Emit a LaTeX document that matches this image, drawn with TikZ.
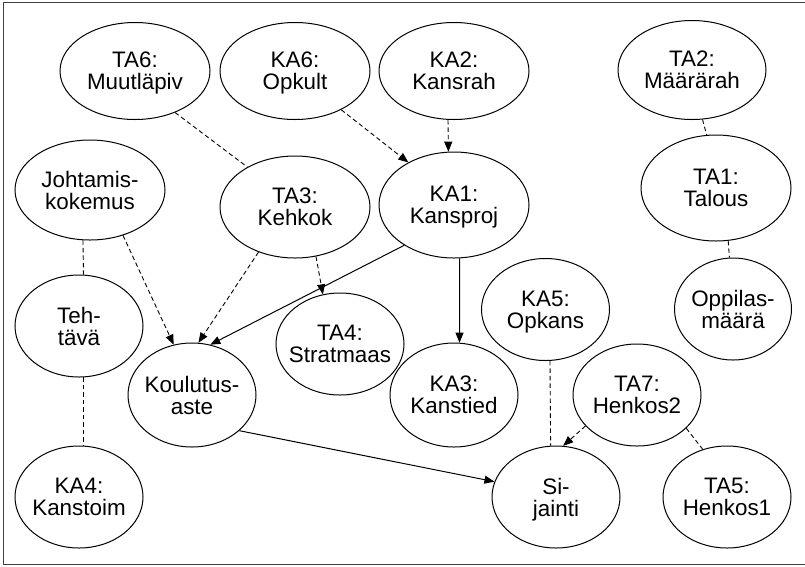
\documentclass[tikz,border=0pt]{standalone}
\usepackage{fontspec}
\setmainfont{Liberation Sans}
\usetikzlibrary{shapes.geometric,arrows.meta}
\begin{document}
\begin{tikzpicture}[x=1pt,y=-1pt,
  var/.style={ellipse,draw,line width=1pt,inner xsep=-14pt,inner ysep=0pt,
    align=center,text depth=0pt,font=\fontsize{22.4}{22}\selectfont},
  wide/.style={var,minimum width=150pt,minimum height=97pt},
  narrow/.style={var,minimum width=128pt,minimum height=102pt},
  link/.style={line width=0.9pt,dash pattern=on 4.5pt off 3pt},
  causal/.style={link,-{Triangle[length=10pt,width=8pt]}},
  direct/.style={line width=1pt,-{Triangle[length=10pt,width=8pt]}}
]
\useasboundingbox (0,0) rectangle (805,566);
% open frame (right side runs off the page)
\draw[line width=1pt,black!75] (805,2.5) -- (3,2.5) -- (3,564.5) -- (805,564.5);

% variables
\node[wide] (ta6) at (135,71) {TA6:\\Muutläpiv};
\node[wide] (ka6) at (295,71) {KA6:\\Opkult};
\node[wide] (ka2) at (454,71) {KA2:\\Kansrah};
\node[wide,minimum width=148pt,minimum height=99pt] (ta2) at (692,70) {TA2:\\Määrärah};
\node[wide,minimum height=100pt] (joh) at (90,190) {Johtamis-\\kokemus};
\node[wide,minimum height=102pt] (ta3) at (295,207) {TA3:\\Kehkok};
\node[wide,minimum height=106pt] (ka1) at (454,205) {KA1:\\Kansproj};
\node[wide,minimum height=106pt] (ta1) at (716,188) {TA1:\\Talous};
\node[narrow] (teh) at (79,326) {Teh-\\tävä};
\node[narrow,minimum width=117pt] (opp) at (733,309) {Oppilas-\\määrä};
\node[narrow] (ka5) at (545.5,309.5) {KA5:\\Opkans};
\node[narrow] (ta4) at (340,344) {TA4:\\Stratmaas};
\node[narrow,minimum height=104pt] (kou) at (192,395) {Koulutus-\\aste};
\node[narrow,minimum height=104pt] (ka3) at (454,395) {KA3:\\Kanstied};
\node[narrow] (ta7) at (637,395) {TA7:\\Henkos2};
\node[narrow] (ka4) at (79,497) {KA4:\\Kanstoim};
\node[narrow] (sij) at (556,497) {Si-\\jainti};
\node[narrow] (ta5) at (727,497) {TA5:\\Henkos1};

% undirected links
\draw[link] (ta6.-46.3) -- (ta3.140.2);
\draw[link] (ta2.-78.3) -- (ta1.100);
\draw[link] (ta1.-77.2) -- (opp.94.5);
\draw[link] (joh.-98) -- (teh.85.5);
\draw[link] (teh.-85.5) -- (ka4.85.5);
\draw[link] (ka5.-85) -- (sij.96.7);
\draw[link] (ta7.-34.7) -- (ta5.117.9);

% dashed directed links
\draw[causal] (ka6.-40.5) -- (ka1.137.2);
\draw[causal] (ka2.-97.1) -- (ka1.96.5);
\draw[causal] (joh.-54.6) -- (kou.110);
\draw[causal] (ta3.-129.6) -- (kou.83.4);
\draw[causal] (ta3.-67.6) -- (ta4.109.4);
\draw[causal] (ta7.-149.8) -- (sij.82.3);

% solid directed links
\draw[direct] (ka1.-141.2) -- (kou.70.9);
\draw[direct] (ka1.-84.6) -- (ka3.84.5);
\draw[direct] (kou.-37.5) -- (sij.166.4);
\end{tikzpicture}
\end{document}
